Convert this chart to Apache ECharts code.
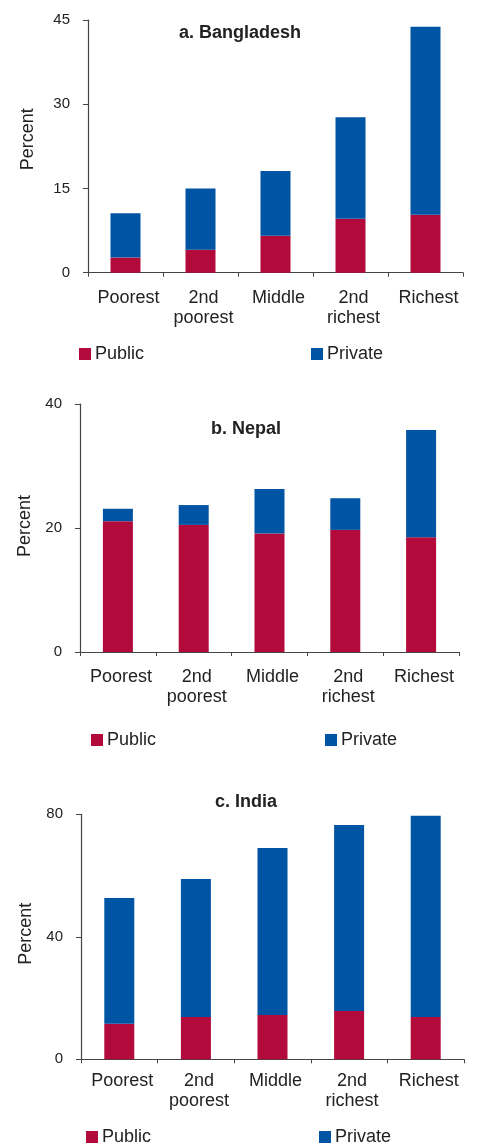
<!DOCTYPE html>
<html>
<head>
<meta charset="utf-8">
<script src="https://cdn.jsdelivr.net/npm/echarts@6/dist/echarts.min.js"></script>
<style>
html,body{margin:0;padding:0;background:#fff;}
#chart{width:479px;height:1143px;}
</style>
</head>
<body>
<div id="chart"></div>
<script>
// ---- Data ----
const categories = ['Poorest', '2nd\npoorest', 'Middle', '2nd\nrichest', 'Richest'];
const seriesNames = ['Public', 'Private'];
const panelTitles = ['a. Bangladesh', 'b. Nepal', 'c. India'];

const bangladeshPublic  = [2.7, 4.1, 6.6, 9.6, 10.3];
const bangladeshPrivate = [7.9, 10.9, 11.5, 18.1, 33.5];

const nepalPublic  = [21.1, 20.5, 19.1, 19.7, 18.5];
const nepalPrivate = [2.0, 3.2, 7.2, 5.1, 17.3];

const indiaPublic  = [11.6, 13.8, 14.5, 15.8, 13.8];
const indiaPrivate = [41.1, 45.1, 54.5, 60.7, 65.7];

const yMax = [45, 40, 80];
const yInterval = [15, 20, 40];

// ---- Styles / layout ----
const RED = '#B20A3A';
const BLUE = '#0054A4';
const TXT = '#222222';
const AXIS = '#444444';
const FONT = '"Liberation Sans", Arial, Helvetica, sans-serif';

const grids = [
  {left: 88, top: 20, width: 375, height: 252.7},
  {left: 80, top: 404, width: 379, height: 248},
  {left: 81, top: 814.3, width: 383, height: 245}
];
const titlePos = [{x: 235, y: 19}, {x: 241, y: 415}, {x: 241, y: 788}];
const legendPos = [
  {pub: 79, priv: 311, top: 345},
  {pub: 91, priv: 325, top: 731},
  {pub: 86, priv: 319, top: 1128}
];
const nameGaps = [51, 46, 42];
const namePads = [[0, 0, 0, 14], [0, 0, 0, 4], [0, 0, 0, 6]];
const labelMargins = [15, 15, 12];

const panelData = [
  [bangladeshPublic, bangladeshPrivate],
  [nepalPublic, nepalPrivate],
  [indiaPublic, indiaPrivate]
];

const option = {
  animation: false,
  backgroundColor: '#ffffff',
  textStyle: {fontFamily: FONT, color: TXT},
  title: [],
  legend: [],
  grid: [],
  xAxis: [],
  yAxis: [],
  series: []
};

for (let i = 0; i < 3; i++) {
  option.grid.push(Object.assign({containLabel: false}, grids[i]));
  option.title.push({
    text: panelTitles[i],
    left: titlePos[i].x,
    top: titlePos[i].y,
    textAlign: 'center',
    textStyle: {fontFamily: FONT, fontSize: 18, fontWeight: 'bold', color: TXT}
  });
  option.xAxis.push({
    type: 'category',
    gridIndex: i,
    data: categories,
    boundaryGap: true,
    axisLine: {show: true, lineStyle: {color: AXIS, width: 1.2}},
    axisTick: {show: true, inside: false, length: 4, alignWithLabel: false, lineStyle: {color: AXIS}},
    axisLabel: {fontFamily: FONT, fontSize: 18, color: TXT, lineHeight: 20, margin: labelMargins[i], interval: 0, padding: [0, 0, 0, 6]},
    splitLine: {show: false}
  });
  option.yAxis.push({
    type: 'value',
    gridIndex: i,
    min: 0,
    max: yMax[i],
    interval: yInterval[i],
    name: 'Percent',
    nameLocation: 'middle',
    nameGap: nameGaps[i],
    nameRotate: 90,
    nameTextStyle: {fontFamily: FONT, fontSize: 18, color: TXT, padding: namePads[i]},
    axisLine: {show: true, lineStyle: {color: AXIS, width: 1.2}},
    axisTick: {show: true, inside: false, length: 5, lineStyle: {color: AXIS}},
    axisLabel: {fontFamily: FONT, fontSize: 15, color: TXT, margin: 18},
    splitLine: {show: false}
  });
  const stackId = 'stack' + i;
  option.series.push({
    name: seriesNames[0], type: 'bar', xAxisIndex: i, yAxisIndex: i,
    stack: stackId, barWidth: 30, data: panelData[i][0],
    itemStyle: {color: RED}
  });
  option.series.push({
    name: seriesNames[1], type: 'bar', xAxisIndex: i, yAxisIndex: i,
    stack: stackId, barWidth: 30, data: panelData[i][1],
    itemStyle: {color: BLUE}
  });
  const legendCommon = {
    top: legendPos[i].top,
    orient: 'horizontal',
    icon: 'rect',
    itemWidth: 12,
    itemHeight: 12,
    itemGap: 4,
    padding: 0,
    selectedMode: false,
    textStyle: {fontFamily: FONT, fontSize: 18, color: TXT, padding: [0, 0, 0, -1]}
  };
  option.legend.push(Object.assign({}, legendCommon, {left: legendPos[i].pub, data: [seriesNames[0]]}));
  option.legend.push(Object.assign({}, legendCommon, {left: legendPos[i].priv, data: [seriesNames[1]]}));
}

const chart = echarts.init(document.getElementById('chart'), null, {renderer: 'canvas'});
chart.setOption(option);
</script>
</body>
</html>
